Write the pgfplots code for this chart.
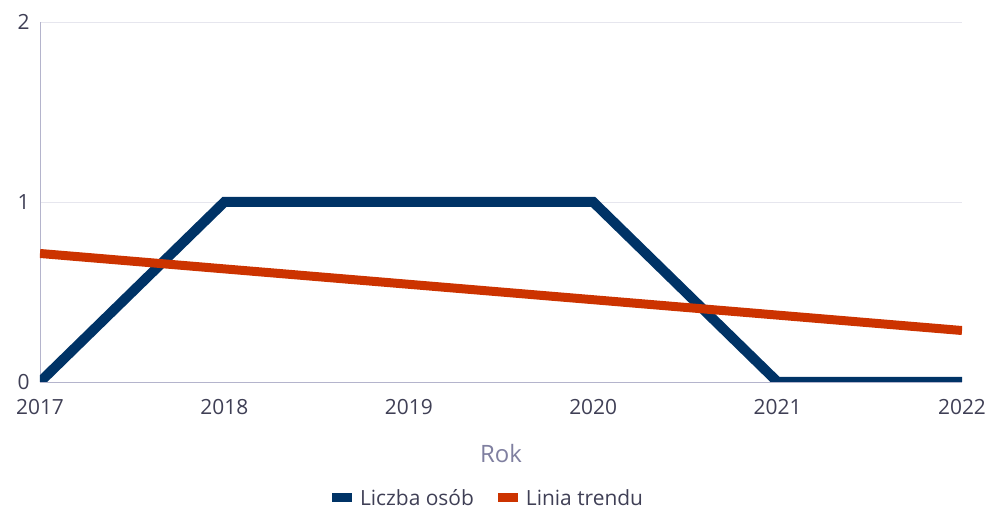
\documentclass[border=0pt]{standalone}
\usepackage{pgfplots}
\pgfplotsset{compat=1.18}
\usepackage{fontspec}
\setmainfont{Open Sans}
\definecolor{navy}{HTML}{003366}
\definecolor{trend}{HTML}{CC3300}
\definecolor{txt}{HTML}{3F3F55}
\definecolor{lbl}{HTML}{7F7FA0}
\definecolor{axl}{HTML}{B4B4CC}
\definecolor{grd}{HTML}{E6E6EE}
\begin{document}
\begin{tikzpicture}
\path[use as bounding box] (0,0) rectangle (985bp,513bp);
\begin{axis}[
  at={(40bp,131bp)}, anchor=south west,
  scale only axis, width=922bp, height=360bp,
  xmin=2017, xmax=2022, ymin=0, ymax=2,
  xtick={2017,2018,2019,2020,2021,2022},
  ytick={0,1,2},
  xticklabel style={/pgf/number format/1000 sep={}},
  /pgf/number format/assume math mode=true,
  tick style={draw=none},
  ymajorgrids, grid style={grd, line width=0.8bp},
  axis x line*=bottom, axis y line*=left,
  axis line style={axl, line width=0.8bp, -},
  ticklabel style={font=\fontsize{21}{24}\selectfont, text=txt},
  yticklabel style={xshift=-7bp},
  xticklabel style={yshift=-14bp},
  xlabel={Rok},
  xlabel style={font=\fontsize{24}{27}\selectfont, text=lbl, yshift=-23bp},
  legend style={at={(0.4865,-0.322)}, anchor=center, draw=none, fill=none,
    legend columns=2, font=\fontsize{21}{24}\selectfont, text=txt,
    /tikz/every odd column/.append style={column sep=6bp},
    /tikz/every even column/.append style={column sep=22bp}},
  legend image code/.code={\fill[#1, draw=none] (0bp,-4.5bp) rectangle (20bp,4.5bp);},
]
\addplot[color=navy, line width=10bp, line join=miter] coordinates {
  (2017,0) (2018,1) (2019,1) (2020,1) (2021,0) (2022,0)};
\addlegendentry{Liczba osób}
\addplot[color=trend, line width=9bp] coordinates {
  (2017,0.714) (2022,0.286)};
\addlegendentry{Linia trendu}
\end{axis}
\end{tikzpicture}
\end{document}
